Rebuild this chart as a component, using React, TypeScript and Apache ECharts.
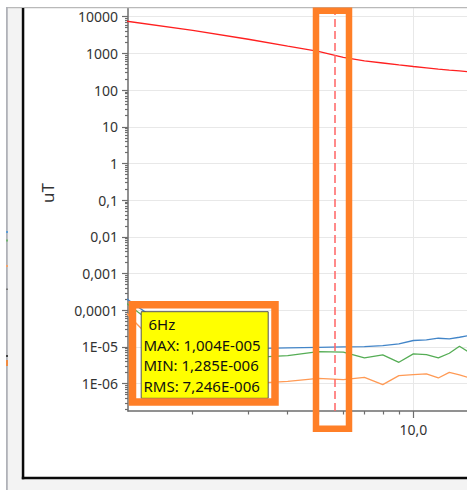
import React, { useEffect, useRef } from 'react';
import * as echarts from 'echarts';

// ---- data ----
const freqs = [1, 2, 3, 4, 5, 6, 7, 8, 9, 10, 11, 12, 13, 14, 15];
const limitValues = [9700, 4250, 2430, 1573, 1140, 781, 628, 547, 485, 439, 404, 375, 352, 333, 316];
const maxValues = [7.4e-4, 1.09e-5, 9.0e-6, 9.4e-6, 9.8e-6, 1.004e-5, 1.026e-5, 1.09e-5, 1.22e-5, 1.5e-5, 1.56e-5, 1.73e-5, 1.66e-5, 1.84e-5, 2.05e-5];
const rmsValues = [6.1e-4, 6.6e-6, 5.1e-6, 5.8e-6, 7.5e-6, 7.246e-6, 5.03e-6, 6.08e-6, 3.82e-6, 6.47e-6, 6.19e-6, 5.03e-6, 6.73e-6, 1.045e-5, 7.16e-6];
const minValues = [5.4e-4, 1.13e-6, 1.0e-6, 1.16e-6, 1.4e-6, 1.285e-6, 1.49e-6, 9.4e-7, 1.65e-6, 1.76e-6, 1.84e-6, 1.43e-6, 2.04e-6, 1.73e-6, 1.46e-6];

const yTickExponents = [-6, -5, -4, -3, -2, -1, 0, 1, 2, 3, 4];
const yTickLabels = ['1E-06', '1E-05', '0,0001', '0,001', '0,01', '0,1', '1', '10', '100', '1000', '10000'];
const xTickExponents = [1];
const xTickLabels = ['10,0'];

const yAxisTitle = 'uT';
const cursorFreq = 5.57;
const tooltipIndex = 5; // 6 Hz

const xMinLog = 0.096;
const xMaxLog = 1.17;
const yMinLog = -6.745;
const yMaxLog = 4.237;

const FONT = "'Noto Sans', 'Open Sans', sans-serif";

function fmtE(v: number): string {
  const [m, e] = v.toExponential(3).split('e');
  const exp = parseInt(e, 10);
  const sign = exp < 0 ? '-' : '+';
  return m.replace('.', ',') + 'E' + sign + String(Math.abs(exp)).padStart(3, '0');
}

export default function App() {
  const ref = useRef<HTMLDivElement>(null);
  useEffect(() => {
    if (!ref.current) return;
    const chart = echarts.init(ref.current, null, { renderer: 'svg' });
    const toPts = (vals: number[]) => freqs.map((f, i) => [Math.log10(f), Math.log10(vals[i])]);

    const yMinor: number[] = [];
    for (let n = -7; n <= 4; n++) {
      for (let k = 2; k <= 9; k++) {
        const lv = Math.log10(k * Math.pow(10, n));
        if (lv > yMinLog && lv < yMaxLog) yMinor.push(lv);
      }
    }
    const xMinor: number[] = [];
    for (let n = 0; n <= 1; n++) {
      for (let k = 2; k <= 9; k++) {
        const lv = Math.log10(k * Math.pow(10, n));
        if (lv > xMinLog && lv < xMaxLog) xMinor.push(lv);
      }
    }

    const axisColor = '#6d6d6d';
    const labelColor = '#333';
    const gridColor = '#e8e8e8';

    const lineSeries = (name: string, vals: number[], color: string, extra: any = {}) => ({
      name,
      type: 'line',
      xAxisIndex: 0,
      yAxisIndex: 0,
      data: toPts(vals),
      showSymbol: false,
      symbol: 'none',
      lineStyle: { color, width: 1.3 },
      itemStyle: { color },
      clip: true,
      z: 2,
      ...extra,
    });

    const tipLines = [
      `${freqs[tooltipIndex]}Hz`,
      `MAX: ${fmtE(maxValues[tooltipIndex])}`,
      `MIN: ${fmtE(minValues[tooltipIndex])}`,
      `RMS: ${fmtE(rmsValues[tooltipIndex])}`,
    ];
    const tipY = [324, 344.5, 365, 385.5];
    const tipX = [148.5, 143.5, 143.5, 143.5];

    const orange = '#ff7f27';
    const sideMarks = [
      { y: 231, h: 2, c: '#5b9bd5' },
      { y: 239.5, h: 2, c: '#72b472' },
      { y: 265, h: 2, c: '#f4a36b' },
      { y: 288.5, h: 1.5, c: '#777777' },
      { y: 355, h: 2, c: '#444444' },
      { y: 360, h: 6, c: '#f08a40' },
    ];

    const option: any = {
      animation: false,
      backgroundColor: '#ffffff',
      textStyle: { fontFamily: FONT },
      grid: { left: 128, right: 0, top: 8, bottom: 79, containLabel: false },
      xAxis: [
        {
          type: 'value',
          position: 'bottom',
          min: xMinLog,
          max: xMaxLog,
          axisLine: { show: true, onZero: false, lineStyle: { color: axisColor, width: 1.5 } },
          axisTick: { show: true, customValues: xTickExponents, length: 7, lineStyle: { color: axisColor, width: 1.2 } },
          axisLabel: {
            show: true,
            customValues: xTickExponents,
            margin: 11,
            fontSize: 14,
            fontFamily: FONT,
            color: labelColor,
            formatter: (v: number) => {
              const i = xTickExponents.findIndex((e) => Math.abs(e - v) < 1e-6);
              return i >= 0 ? xTickLabels[i] : '';
            },
          },
          splitLine: { show: true, lineStyle: { color: gridColor, width: 1 } },
        },
        {
          type: 'value',
          position: 'bottom',
          min: xMinLog,
          max: xMaxLog,
          axisLine: { show: false, onZero: false },
          axisTick: { show: true, customValues: xMinor, length: 3.5, lineStyle: { color: axisColor, width: 1.2 } },
          axisLabel: { show: false },
          splitLine: { show: false },
        },
      ],
      yAxis: [
        {
          type: 'value',
          position: 'left',
          min: yMinLog,
          max: yMaxLog,
          axisLine: { show: true, onZero: false, lineStyle: { color: axisColor, width: 1.5 } },
          axisTick: { show: true, customValues: yTickExponents, length: 6, lineStyle: { color: axisColor, width: 1.2 } },
          axisLabel: {
            show: true,
            customValues: yTickExponents,
            margin: 10,
            fontSize: 14,
            fontFamily: FONT,
            color: labelColor,
            formatter: (v: number) => {
              const i = yTickExponents.findIndex((e) => Math.abs(e - v) < 1e-6);
              return i >= 0 ? yTickLabels[i] : '';
            },
          },
          splitLine: { show: true, lineStyle: { color: gridColor, width: 1 } },
        },
        {
          type: 'value',
          position: 'left',
          min: yMinLog,
          max: yMaxLog,
          axisLine: { show: false, onZero: false },
          axisTick: { show: true, customValues: yMinor, length: 3, lineStyle: { color: axisColor, width: 1.2 } },
          axisLabel: { show: false },
          splitLine: { show: false },
        },
      ],
      series: [
        lineSeries('MAX', maxValues, '#4285c8'),
        lineSeries('RMS', rmsValues, '#55ad55'),
        lineSeries('MIN', minValues, '#ff9a55'),
        lineSeries('Limit', limitValues, '#ff2020', {
          markLine: {
            silent: true,
            symbol: ['none', 'none'],
            label: { show: false },
            lineStyle: { color: '#ff6464', type: [8, 4], width: 1.5 },
            data: [{ xAxis: Math.log10(cursorFreq) }],
          },
        }),
      ],
      graphic: [
        // outer frame
        { type: 'rect', silent: true, z: 90, shape: { x: 7, y: 8, width: 15, height: 482 }, style: { fill: '#f3f3f3' } },
        { type: 'rect', silent: true, z: 90, shape: { x: 7, y: 479, width: 460, height: 11 }, style: { fill: '#f3f3f3' } },
        { type: 'rect', silent: true, z: 91, shape: { x: 6, y: 7, width: 461, height: 1.3 }, style: { fill: '#b9b9b9' } },
        { type: 'rect', silent: true, z: 91, shape: { x: 6, y: 7, width: 1.8, height: 483 }, style: { fill: '#b0b2b8' } },
        ...sideMarks.map((m) => ({
          type: 'rect', silent: true, z: 92, shape: { x: 6, y: m.y, width: 2, height: m.h }, style: { fill: m.c },
        })),
        { type: 'rect', silent: true, z: 92, shape: { x: 21.8, y: 8, width: 2.5, height: 471.3 }, style: { fill: '#0a0a0a' } },
        { type: 'rect', silent: true, z: 92, shape: { x: 21.8, y: 476.8, width: 445.2, height: 2.5 }, style: { fill: '#0a0a0a' } },
        // axis title
        {
          type: 'text', silent: true, z: 95, x: 47, y: 193, rotation: Math.PI / 2,
          style: {
            text: yAxisTitle, fontSize: 17, fontFamily: FONT, fill: '#333',
            align: 'center', verticalAlign: 'middle', textAlign: 'center', textVerticalAlign: 'middle',
          },
        },
        // highlight around cursor
        {
          type: 'rect', silent: true, z: 100, shape: { x: 316, y: 10.8, width: 33, height: 418 },
          style: { fill: 'none', stroke: orange, lineWidth: 6.5 },
        },
        // tooltip box
        {
          type: 'rect', silent: true, z: 100, shape: { x: 141.2, y: 311.7, width: 127, height: 86.6 },
          style: { fill: '#ffff00', stroke: '#555555', lineWidth: 1 },
        },
        ...tipLines.map((t, i) => ({
          type: 'text', silent: true, z: 101, x: tipX[i], y: tipY[i],
          style: {
            text: t, fontSize: 15, fontFamily: FONT, fill: '#111',
            align: 'left', verticalAlign: 'middle', textAlign: 'left', textVerticalAlign: 'middle',
          },
        })),
        {
          type: 'rect', silent: true, z: 102, shape: { x: 132.5, y: 304.7, width: 142.5, height: 97.3 },
          style: { fill: 'none', stroke: orange, lineWidth: 7.5 },
        },
      ],
    };
    chart.setOption(option);
    return () => chart.dispose();
  }, []);
  return <div ref={ref} style={{ position: 'absolute', left: 0, top: 0, width: 467, height: 490 }} />;
}
